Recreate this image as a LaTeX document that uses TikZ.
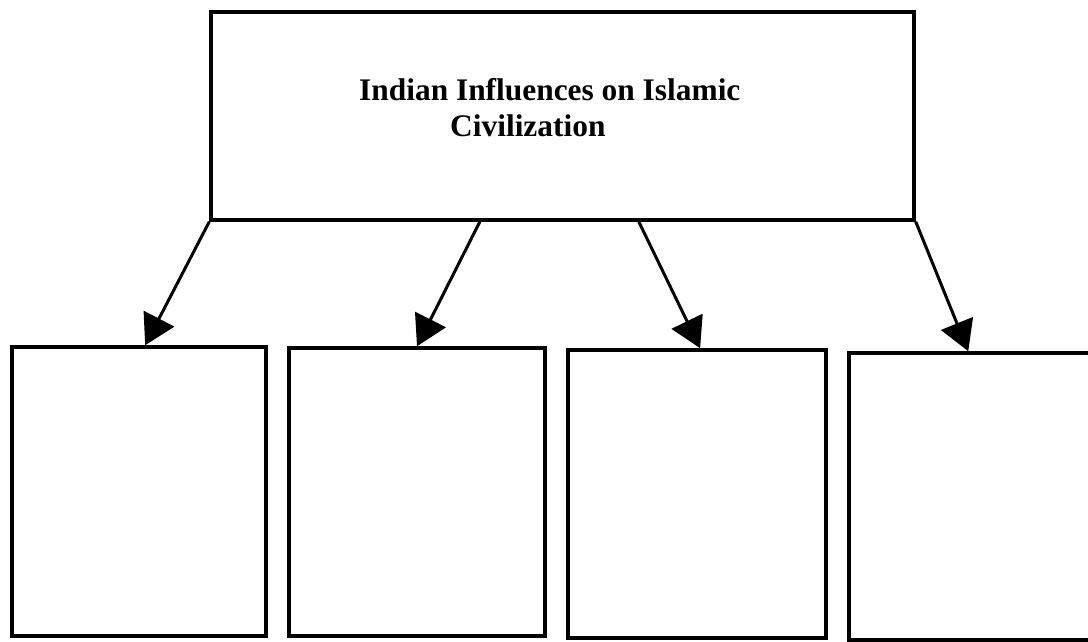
\documentclass[tikz,border=0pt]{standalone}
\usepackage{fontspec}
\setmainfont{Liberation Serif}
\usetikzlibrary{arrows.meta,calc}
\begin{document}
\begin{tikzpicture}[x=1pt,y=-1pt,
  box/.style={draw=black, line width=3.5pt, inner sep=0pt, fill=none},
  conn/.style={draw=black, line width=3pt, -{Triangle[length=30pt,width=34pt]}},
  titletext/.style={anchor=base west, inner sep=0pt, font=\fontsize{31.4}{36}\selectfont\bfseries}]
\useasboundingbox (0,0) rectangle (1088,642);
\clip (0,0) rectangle (1088,642);
\fill[white] (0,0) rectangle (1088,642);
% top box
\node[box, minimum width=703pt, minimum height=208pt] (top) at (562.5,116) {};
\node[titletext] (t1) at (359,100) {Indian Influences on Islamic};
\node[titletext] (t2) at (450,136) {Civilization};
% bottom boxes
\node[box, minimum width=254pt, minimum height=289pt] (b1) at (139,491.5) {};
\node[box, minimum width=256pt, minimum height=288pt] (b2) at (417,492) {};
\node[box, minimum width=258pt, minimum height=288pt] (b3) at (697,494) {};
\node[box, minimum width=261pt, minimum height=287pt] (b4) at (979.5,496.5) {};
% connectors
\draw[conn] (top.south west) -- ($(b1.north west)!0.524!(b1.north east)$);
\draw[conn] ($(top.south west)!0.383!(top.south east)$) -- (b2.north);
\draw[conn] ($(top.south west)!0.608!(top.south east)$) -- ($(b3.north west)!0.512!(b3.north east)$);
\draw[conn] (top.south east) -- ($(b4.north west)+(121,0)$);
\end{tikzpicture}
\end{document}
